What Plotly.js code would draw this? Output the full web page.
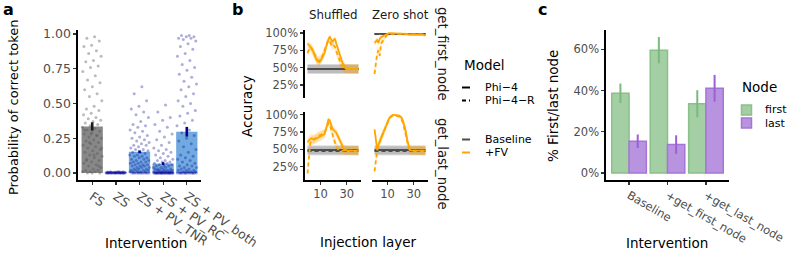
<!DOCTYPE html>
<html><head><meta charset="utf-8">
<script src="https://cdn.plot.ly/plotly-3.0.1.min.js"></script>
<style>html,body{margin:0;padding:0;background:#fff}#chart{width:797px;height:253px}</style>
</head><body><div id="chart"></div>
<script>
// ---------- Panel a data ----------
const aCategories = ['FS', 'ZS', 'ZS + PV_TNR', 'ZS + PV_RC', 'ZS + PV_both'];
const aMeans = [0.335, 0.004, 0.153, 0.068, 0.297];
const aErrors = [0.030, 0.002, 0.010, 0.010, 0.035];
const aPointsFS = [0.98,0.97,0.95,0.92,0.91,0.88,0.86,0.84,0.81,0.80,0.77,0.76,0.73,0.70,0.67,0.65,0.62,0.60,0.57,0.55,0.52,0.48,0.46,0.45,0.43,0.42,0.40,0.39,0.38,0.37,0.36,0.35,0.34,0.33,0.32,0.31,0.30,0.29,0.28,0.27,0.26,0.25,0.24,0.23,0.22,0.21,0.20,0.19,0.18,0.17,0.16,0.15,0.14,0.13,0.12,0.11,0.10,0.09,0.08,0.07,0.06,0.05,0.04,0.03,0.02,0.02,0.01,0.01,0.01,0.00,0.00,0.00,0.31,0.27,0.22,0.18,0.13,0.09,0.05,0.28];
const aPointsZS = [0.012,0.010,0.009,0.008,0.008,0.007,0.006,0.006,0.005,0.005,0.005,0.004,0.004,0.004,0.003,0.003,0.003,0.003,0.002,0.002,0.002,0.002,0.002,0.001,0.001,0.001,0.001,0.001,0.001,0.001,0,0,0,0,0,0,0,0,0,0];
const aPointsTNR = [0.62,0.57,0.52,0.48,0.46,0.44,0.42,0.40,0.37,0.35,0.34,0.33,0.31,0.30,0.29,0.27,0.26,0.25,0.24,0.23,0.22,0.21,0.20,0.20,0.19,0.18,0.17,0.17,0.16,0.15,0.15,0.14,0.13,0.13,0.12,0.12,0.11,0.11,0.10,0.10,0.09,0.09,0.08,0.08,0.08,0.07,0.07,0.06,0.06,0.06,0.05,0.05,0.05,0.04,0.04,0.04,0.03,0.03,0.03,0.02,0.02,0.02,0.02,0.01,0.01,0.01,0.01,0.01,0,0,0,0,0,0,0,0,0,0,0,0];
const aPointsRC = [0.49,0.44,0.40,0.38,0.35,0.33,0.30,0.28,0.26,0.24,0.22,0.20,0.18,0.17,0.16,0.15,0.14,0.13,0.12,0.11,0.10,0.09,0.09,0.08,0.08,0.07,0.07,0.06,0.06,0.05,0.05,0.05,0.04,0.04,0.04,0.03,0.03,0.03,0.03,0.02,0.02,0.02,0.02,0.02,0.01,0.01,0.01,0.01,0.01,0.01,0.01,0,0,0,0,0,0,0,0,0,0,0,0,0,0,0,0,0,0,0,0,0,0,0,0,0,0,0,0,0];
const aPointsBoth = [0.99,0.99,0.98,0.98,0.97,0.97,0.96,0.95,0.93,0.91,0.89,0.86,0.84,0.81,0.78,0.76,0.74,0.71,0.69,0.66,0.64,0.62,0.60,0.57,0.55,0.52,0.50,0.48,0.45,0.43,0.41,0.38,0.36,0.34,0.31,0.29,0.27,0.25,0.23,0.21,0.19,0.17,0.15,0.13,0.12,0.11,0.10,0.09,0.08,0.07,0.06,0.05,0.05,0.04,0.04,0.03,0.03,0.02,0.02,0.02,0.01,0.01,0.01,0.01,0,0,0,0,0,0,0,0,0,0,0,0,0,0,0,0];

// ---------- Panel b data (accuracy %, per injection layer) ----------
const bLayers = [0,1,2,3,4,5,6,7,8,9,10,11,12,13,14,15,16,17,18,19,20,21,22,23,24,25,26,27,28,29,30,31,32,33,34,35,36,37,38,39];
const bColumns = ['Shuffled', 'Zero shot'];
const bRows = ['get_first_node', 'get_last_node'];
const bYTickVals = [25, 50, 75, 100];
const bYTickText = ['25%', '50%', '75%', '100%'];
const bFVShuffledFirstPhi4  = [85,83,80,78,75,70,65,61,59,58,60,64,68,71,78,86,91,95,90,87,90,92,85,78,72,67,61,56,52,49,48,48,48,47,48,48,48,48,48,48];
const bFVShuffledFirstPhi4R = [71,77,80,78,74,70,66,62,60,60,62,65,70,74,80,86,90,88,84,80,82,80,74,68,62,57,53,50,49,48,48,48,48,48,48,48,48,48,48,48];
const bFVZeroFirstPhi4      = [86,88,90,86,92,94,95,97,98,99,100,100,100,100,99,99,100,99,99,99,99,99,99,99,99,99,98,98,98,99,99,98,98,98,98,98,98,98,97,97];
const bFVZeroFirstPhi4R     = [41,56,70,75,67,85,88,91,94,96,98,99,99,99,99,99,99,99,99,99,99,99,99,98,98,98,98,98,98,98,98,98,98,98,98,98,98,98,97,97];
const bFVShuffledLastPhi4   = [60,63,65,66,65,64,65,66,67,67,68,69,70,72,78,86,93,92,84,80,78,76,74,70,66,61,57,53,50,49,48,48,48,48,48,48,48,48,48,48];
const bFVShuffledLastPhi4R  = [15,40,58,62,63,64,66,68,70,70,71,72,73,74,78,84,88,86,78,72,66,60,55,51,49,48,48,48,48,48,48,48,48,48,48,48,48,48,48,48];
const bFVZeroLastPhi4       = [79,60,50,57,62,66,70,74,80,86,90,94,97,99,100,100,100,100,100,99,97,95,90,84,76,64,54,49,48,48,48,48,48,48,48,48,48,48,48,48];
const bFVZeroLastPhi4R      = [18,37,48,56,62,67,71,75,80,85,89,93,96,98,99,99,99,99,98,97,95,92,87,80,72,62,53,49,48,48,48,48,48,48,48,48,48,48,48,48];
// baseline accuracy per facet: [Shuffled/first, Zero shot/first, Shuffled/last, Zero shot/last]
const bBaselinePhi4  = [48, 99, 49, 49];
const bBaselinePhi4R = [48, 98.5, 47.5, 47.5];
const bTrials = 220;

// ---------- Panel c data (%) ----------
const cCategories = ['Baseline', '+get_first_node', '+get_last_node'];
const cFirst = [38.7, 59.6, 33.6];
const cFirstErr = [4.7, 6.4, 6.6];
const cLast = [15.4, 13.8, 41.1];
const cLastErr = [3.3, 4.5, 6.5];
const cYTickVals = [0, 20, 40, 60];
const cYTickText = ['0%', '20%', '40%', '60%'];

// ---------- helpers ----------
const W = 797, H = 253;
const PX = p => p / W, PY = p => 1 - p / H;
const F = 'DejaVu Sans';
const ORANGE = '#FFA500', DARK = '#4d4d4d';

function jitter(center, i, width) {
  return center + (((i + 1) * 0.6180339887) % 1 - 0.5) * width;
}
function ciHalf(p) { const q = p / 100; return 196 * Math.sqrt(Math.max(q * (1 - q), 0.0004) / bTrials); }

const traces = [];

// Panel a bars
traces.push({
  type: 'bar', x: aCategories.map((c, i) => i), y: aMeans, width: 0.9,
  marker: { color: aCategories.map((c, i) => i === 0 ? 'rgb(136,136,136)' : 'rgb(112,170,224)'), line: { width: 0 } },
  xaxis: 'x', yaxis: 'y', showlegend: false, hoverinfo: 'skip'
});
const aPointSets = [aPointsFS, aPointsZS, aPointsTNR, aPointsRC, aPointsBoth];
aPointSets.forEach((pts, ci) => {
  traces.push({
    type: 'scatter', mode: 'markers',
    x: pts.map((v, i) => jitter(ci, i, 0.85)), y: pts,
    marker: { size: 3, color: ci === 0 ? 'rgba(85,85,85,0.4)' : 'rgba(0,0,150,0.32)', line: { width: 0 } },
    xaxis: 'x', yaxis: 'y', showlegend: false, hoverinfo: 'skip'
  });
});
[[0], [1, 2, 3, 4]].forEach((idx, k) => {
  traces.push({
    type: 'scatter', mode: 'markers', x: idx, y: idx.map(i => aMeans[i]),
    marker: { size: 1, color: 'rgba(0,0,0,0)' },
    error_y: { type: 'data', array: idx.map(i => aErrors[i]), width: 0, thickness: 2.6, color: k === 0 ? '#1a1a1a' : '#00008b' },
    xaxis: 'x', yaxis: 'y', showlegend: false, hoverinfo: 'skip'
  });
});

// Panel b
const facets = [
  { ax: '2', s: bFVShuffledFirstPhi4, d: bFVShuffledFirstPhi4R, k: 0 },
  { ax: '3', s: bFVZeroFirstPhi4, d: bFVZeroFirstPhi4R, k: 1 },
  { ax: '4', s: bFVShuffledLastPhi4, d: bFVShuffledLastPhi4R, k: 2 },
  { ax: '5', s: bFVZeroLastPhi4, d: bFVZeroLastPhi4R, k: 3 }
];
function ribbon(vals, ax, color) {
  const up = vals.map(v => Math.min(100, v + ciHalf(v)));
  const lo = vals.map(v => Math.max(0, v - ciHalf(v)));
  return {
    type: 'scatter', mode: 'lines', x: bLayers.concat(bLayers.slice().reverse()),
    y: up.concat(lo.slice().reverse()), fill: 'toself', fillcolor: color,
    line: { width: 0 }, xaxis: 'x' + ax, yaxis: 'y' + ax, showlegend: false, hoverinfo: 'skip'
  };
}
facets.forEach(f => {
  const b1 = bLayers.map(() => bBaselinePhi4[f.k]);
  const b2 = bLayers.map(() => bBaselinePhi4R[f.k]);
  traces.push(ribbon(b1, f.ax, 'rgba(110,110,110,0.32)'));
  traces.push(ribbon(b2, f.ax, 'rgba(110,110,110,0.2)'));
  traces.push(ribbon(f.s, f.ax, 'rgba(255,165,0,0.22)'));
  traces.push(ribbon(f.d, f.ax, 'rgba(255,165,0,0.22)'));
  traces.push({ type: 'scatter', mode: 'lines', x: bLayers, y: b2, line: { color: DARK, width: 1.8, dash: '4px,3px' }, xaxis: 'x' + f.ax, yaxis: 'y' + f.ax, showlegend: false, hoverinfo: 'skip' });
  traces.push({ type: 'scatter', mode: 'lines', x: bLayers, y: b1, line: { color: DARK, width: 1.8 }, xaxis: 'x' + f.ax, yaxis: 'y' + f.ax, showlegend: false, hoverinfo: 'skip' });
  traces.push({ type: 'scatter', mode: 'lines', x: bLayers, y: f.d, line: { color: ORANGE, width: 1.8, dash: '4px,3px' }, xaxis: 'x' + f.ax, yaxis: 'y' + f.ax, showlegend: false, hoverinfo: 'skip' });
  traces.push({ type: 'scatter', mode: 'lines', x: bLayers, y: f.s, line: { color: ORANGE, width: 1.8 }, xaxis: 'x' + f.ax, yaxis: 'y' + f.ax, showlegend: false, hoverinfo: 'skip' });
});

// Panel c
traces.push({
  type: 'bar', name: 'first', x: cCategories, y: cFirst,
  marker: { color: 'rgb(164,207,164)', line: { color: 'rgb(138,192,138)', width: 1.5 } },
  error_y: { type: 'data', array: cFirstErr, width: 0, thickness: 2, color: 'rgb(122,186,122)' },
  xaxis: 'x6', yaxis: 'y6', showlegend: false, hoverinfo: 'skip'
});
traces.push({
  type: 'bar', name: 'last', x: cCategories, y: cLast,
  marker: { color: 'rgb(184,148,224)', line: { color: 'rgb(166,116,216)', width: 1.5 } },
  error_y: { type: 'data', array: cLastErr, width: 0, thickness: 2, color: 'rgb(155,96,210)' },
  xaxis: 'x6', yaxis: 'y6', showlegend: false, hoverinfo: 'skip'
});

// ---------- layout ----------
const tickFont = { family: F, size: 11.5, color: DARK };
const tickFontA = { family: F, size: 12.5, color: DARK };
const base = {
  showgrid: false, zeroline: false, showline: true, linecolor: '#000', linewidth: 1.6,
  ticks: 'outside', ticklen: 3, tickwidth: 1.3, tickcolor: '#333', tickfont: tickFont, fixedrange: true
};
const hidden = { showgrid: false, zeroline: false, showline: false, ticks: '', showticklabels: false, fixedrange: true };
const topDom = [PY(98.3), PY(30)], botDom = [PY(180), PY(111.7)];
const leftDom = [PX(305), PX(361)], rightDom = [PX(372), PX(428)];
const bX = [-1.95, 40.95], bY = [5.5, 104.5];
const bYTicks = { tickmode: 'array', tickvals: bYTickVals, ticktext: bYTickText };

const layout = {
  width: W, height: H, margin: { l: 0, r: 0, t: 0, b: 0 },
  paper_bgcolor: '#fff', plot_bgcolor: 'rgba(0,0,0,0)',
  barmode: 'group', bargap: 0.1, bargroupgap: 0, showlegend: false,
  font: { family: F, color: '#000' },
  xaxis: Object.assign({}, base, { domain: [PX(78), PX(201)], range: [-0.6, 4.6], tickmode: 'array', tickvals: [0, 1, 2, 3, 4], ticktext: aCategories, tickangle: 35, tickfont: tickFontA, anchor: 'y' }),
  yaxis: Object.assign({}, base, { domain: [PY(180), PY(30)], range: [-0.05, 1.029], tickvals: [0, 0.25, 0.5, 0.75, 1], tickformat: '.2f', tickfont: tickFontA, anchor: 'x' }),
  xaxis2: Object.assign({}, hidden, { domain: leftDom, range: bX, anchor: 'y2' }),
  yaxis2: Object.assign({}, base, bYTicks, { domain: topDom, range: bY, anchor: 'x2' }),
  xaxis3: Object.assign({}, hidden, { domain: rightDom, range: bX, anchor: 'y3' }),
  yaxis3: Object.assign({}, hidden, { domain: topDom, range: bY, anchor: 'x3' }),
  xaxis4: Object.assign({}, base, { domain: leftDom, range: bX, tickvals: [10, 30], anchor: 'y4' }),
  yaxis4: Object.assign({}, base, bYTicks, { domain: botDom, range: bY, anchor: 'x4' }),
  xaxis5: Object.assign({}, base, { domain: rightDom, range: bX, tickvals: [10, 30], anchor: 'y5' }),
  yaxis5: Object.assign({}, hidden, { domain: botDom, range: bY, anchor: 'x5' }),
  xaxis6: Object.assign({}, base, { domain: [PX(606), PX(729)], range: [-0.6, 2.6], type: 'category', tickangle: 30, anchor: 'y6' }),
  yaxis6: Object.assign({}, base, { domain: [PY(180), PY(30)], range: [-3.4, 69.4], tickmode: 'array', tickvals: cYTickVals, ticktext: cYTickText, anchor: 'x6' }),
  annotations: [], shapes: []
};

function txt(text, x, y, opts) {
  layout.annotations.push(Object.assign({
    text: text, x: PX(x), y: PY(y), xref: 'paper', yref: 'paper', showarrow: false,
    xanchor: 'center', yanchor: 'middle', font: { family: F, size: 13.5, color: '#000' }
  }, opts || {}));
}
// panel letters
const letterFont = { family: F, size: 16, color: '#000' };
txt('<b>a</b>', 1, 10, { xanchor: 'left', font: letterFont });
txt('<b>b</b>', 230, 10, { xanchor: 'left', font: letterFont });
txt('<b>c</b>', 536, 10, { xanchor: 'left', font: letterFont });
// axis titles
txt('Probability of correct token', 13, 107, { textangle: -90, font: { family: F, size: 13, color: '#000' } });
txt('Intervention', 146, 243);
txt('Accuracy', 247, 106, { textangle: -90 });
txt('Injection layer', 368, 242);
txt('% First/last node', 553, 106, { textangle: -90 });
txt('Intervention', 667, 243);
// facet strips
const stripFont = { family: F, size: 11.8, color: '#1a1a1a' };
const stripFontR = { family: F, size: 13.2, color: '#1a1a1a' };
txt(bColumns[0], 333, 15, { font: stripFont });
txt(bColumns[1], 400, 15, { font: stripFont });
txt(bRows[0], 443, 54, { textangle: 90, font: stripFontR });
txt(bRows[1], 443, 164, { textangle: 90, font: stripFontR });
// legend b
const legFont = { family: F, size: 11, color: '#000' };
txt('Model', 462, 65, { xanchor: 'left' });
txt('Phi\u22124', 483, 87.5, { xanchor: 'left', font: legFont });
txt('Phi\u22124\u2212R', 483, 100.5, { xanchor: 'left', font: legFont });
txt('Baseline', 483, 139.5, { xanchor: 'left', font: legFont });
txt('+FV', 483, 152.5, { xanchor: 'left', font: legFont });
function keyLine(y, color, dash) {
  layout.shapes.push({ type: 'line', xref: 'paper', yref: 'paper', x0: PX(462), x1: PX(470), y0: PY(y), y1: PY(y), line: { color: color, width: 2, dash: dash || 'solid' } });
}
keyLine(87.5, '#000'); keyLine(100.5, '#000', '4px,3px'); keyLine(139.5, DARK); keyLine(152.5, ORANGE);
// legend c
txt('Node', 740, 87, { xanchor: 'left' });
txt('first', 763, 110, { xanchor: 'left', font: legFont });
txt('last', 763, 123, { xanchor: 'left', font: legFont });
layout.shapes.push({ type: 'rect', xref: 'paper', yref: 'paper', x0: PX(741.5), x1: PX(751.5), y0: PY(105), y1: PY(115), fillcolor: 'rgb(164,207,164)', line: { color: 'rgb(138,192,138)', width: 1.5 } });
layout.shapes.push({ type: 'rect', xref: 'paper', yref: 'paper', x0: PX(741.5), x1: PX(751.5), y0: PY(118), y1: PY(128), fillcolor: 'rgb(184,148,224)', line: { color: 'rgb(166,116,216)', width: 1.5 } });

Plotly.newPlot('chart', traces, layout, { staticPlot: true, displayModeBar: false });
</script></body></html>
